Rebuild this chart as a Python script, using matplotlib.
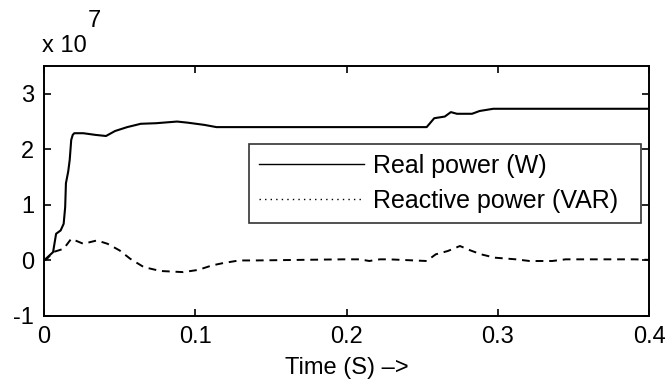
import numpy as np
import matplotlib
matplotlib.use('Agg')
import matplotlib.pyplot as plt
from matplotlib.lines import Line2D

# Data (values in units of 1e7) ------------------
real_t = [0, 0.002, 0.006, 0.008, 0.011, 0.013, 0.014, 0.0145, 0.016, 0.017, 0.018, 0.019,
          0.020, 0.026, 0.034, 0.041, 0.047, 0.055, 0.064, 0.074, 0.088, 0.095, 0.106, 0.114,
          0.253, 0.258, 0.265, 0.269, 0.273, 0.283, 0.288, 0.297, 0.4]
real_p = [0, 0.05, 0.15, 0.48, 0.54, 0.66, 0.96, 1.39, 1.6, 1.81, 2.17, 2.26,
          2.29, 2.29, 2.26, 2.24, 2.33, 2.40, 2.46, 2.47, 2.50, 2.48, 2.44, 2.40,
          2.40, 2.56, 2.59, 2.67, 2.64, 2.64, 2.69, 2.73, 2.73]
reac_t = [0, 0.002, 0.006, 0.013, 0.018, 0.026, 0.035, 0.042, 0.050, 0.057, 0.066, 0.077,
          0.092, 0.102, 0.111, 0.118, 0.129, 0.140, 0.198, 0.209, 0.215, 0.222, 0.228, 0.253,
          0.259, 0.267, 0.275, 0.282, 0.289, 0.298, 0.312, 0.321, 0.336, 0.345, 0.391, 0.4]
reac_p = [0, 0.03, 0.15, 0.21, 0.39, 0.30, 0.36, 0.30, 0.18, 0.03, -0.12, -0.19,
          -0.21, -0.17, -0.09, -0.05, 0.0, 0.0, 0.02, 0.02, -0.01, 0.02, 0.02, -0.01,
          0.11, 0.17, 0.26, 0.18, 0.11, 0.05, 0.02, -0.01, -0.01, 0.02, 0.02, 0.01]
x_ticks = [0, 0.1, 0.2, 0.3, 0.4]
x_labels = ['0', '0.1', '0.2', '0.3', '0.4']
y_ticks = [-1, 0, 1, 2, 3]
labels = ['Real power (W)', 'Reactive power (VAR)']
# -----------------------------------------------

plt.rcParams['font.family'] = ['Liberation Sans', 'DejaVu Sans']
plt.rcParams['axes.unicode_minus'] = False
FS = 17

fig = plt.figure(figsize=(6.67, 3.81), dpi=100)
ax = fig.add_axes([44/667, 65/381, 605/667, 250/381])

ax.plot(real_t, real_p, color='black', lw=1.5)
ax.plot(reac_t, reac_p, color='black', lw=1.4, linestyle=(0, (4, 3)))

ax.set_xlim(0, 0.4)
ax.set_ylim(-1, 3.5)
ax.set_xticks(x_ticks)
ax.set_xticklabels(x_labels)
ax.set_yticks(y_ticks)
ax.tick_params(direction='in', length=5, width=1.2, top=True, right=True,
               labelsize=FS, pad=7)
for s in ax.spines.values():
    s.set_linewidth(1.4)

ax.set_xlabel('Time (S) \u2013>', fontsize=FS)
ax.xaxis.set_label_coords(0.5, -0.165)

fig.text(42/667, 1-52/381, 'x 10', fontsize=FS, va='baseline')
fig.text(88/667, 1-27/381, '7', fontsize=FS, va='baseline')

handles = [Line2D([], [], color='black', lw=1.0),
           Line2D([], [], color='black', lw=1.0, linestyle=(0, (1, 3)))]
leg = ax.legend(handles, labels, loc='lower left',
                bbox_to_anchor=(0.339, 0.372, 0.648, 0.316), mode='expand',
                fontsize=18, handlelength=4.2, handletextpad=0.35,
                borderpad=0.4, labelspacing=0.45, fancybox=False, borderaxespad=0)
leg.get_frame().set_edgecolor('black')
leg.get_frame().set_linewidth(1.2)

fig.savefig('out.png', dpi=100)
